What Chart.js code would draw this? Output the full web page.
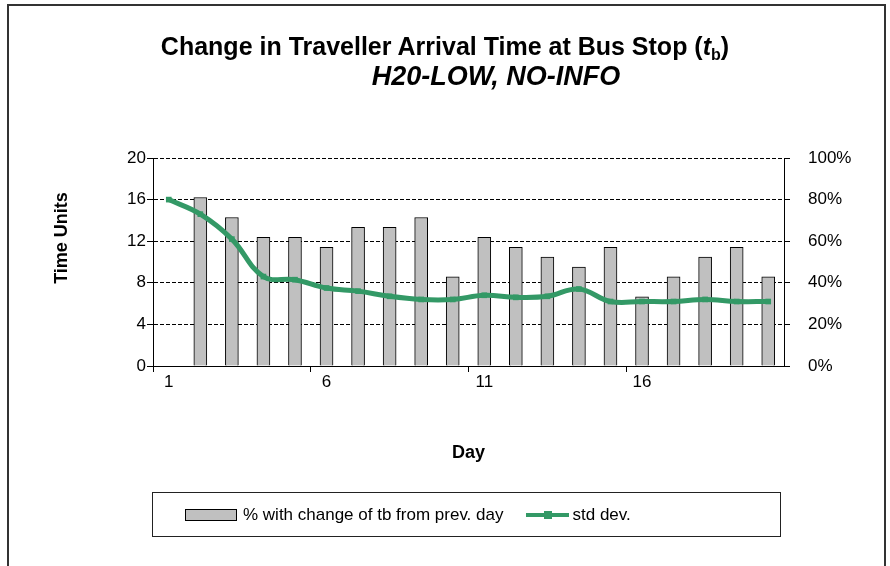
<!DOCTYPE html>
<html>
<head>
<meta charset="utf-8">
<script src="https://cdn.jsdelivr.net/npm/chart.js@4.4.1/dist/chart.umd.min.js"></script>
<style>
  html, body { margin: 0; padding: 0; background: #fff; overflow: hidden; }
  #wrap { position: relative; width: 890px; height: 566px; overflow: hidden; font-family: 'Liberation Sans', Arial, sans-serif; color: #000; }
  #chart { position: absolute; left: 0; top: 0; }
  .frame { position: absolute; left: 7px; top: 4px; width: 875px; height: 600px; border: 2px solid #333; }
  .title { position: absolute; left: 0; top: 31px; width: 890px; text-align: center; font-weight: bold; font-size: 25px; line-height: 30px; white-space: nowrap; }
  .title sub { font-size: 16px; vertical-align: -5px; line-height: 0; }
  .subtitle { position: absolute; left: 51px; top: 61px; width: 890px; text-align: center; font-weight: bold; font-style: italic; font-size: 27px; line-height: 30px; white-space: nowrap; }
  .ytitle { position: absolute; left: 61px; top: 238px; transform: translate(-50%, -50%) rotate(-90deg); font-weight: bold; font-size: 18px; white-space: nowrap; }
  .legend { position: absolute; left: 152px; top: 492px; width: 627px; height: 43px; border: 1px solid #222; display: flex; align-items: center; justify-content: flex-start; font-size: 17px; }
  .legend .item { display: flex; align-items: center; }
  .legend .bar { width: 50px; height: 10px; background: #c0c0c0; border: 1px solid #000; margin: 0 6px 0 32px; }
  .legend .line { position: relative; width: 43px; height: 4px; background: #339966; margin: 0 3px 0 23px; }
  .legend .line::after { content: ''; position: absolute; left: 18px; top: -2px; width: 8px; height: 8px; background: #339966; }
</style>
</head>
<body>
<div id="wrap">
  <canvas id="chart" width="890" height="566"></canvas>
  <div class="frame"></div>
  <div class="title">Change in Traveller Arrival Time at Bus Stop (<i>t</i><sub>b</sub>)</div>
  <div class="subtitle">H20-LOW, NO-INFO</div>
  <div class="ytitle">Time Units</div>
  <div class="legend">
    <div class="item"><span class="bar"></span>% with change of tb from prev. day</div>
    <div class="item"><span class="line"></span>std dev.</div>
  </div>
</div>
<script>
// days of the run
const days = ['1', '2', '3', '4', '5', '6', '7', '8', '9', '10',
              '11', '12', '13', '14', '15', '16', '17', '18', '19', '20'];
// only these days get a label on the x axis
const labelledDays = ['1', '6', '11', '16'];

// % of travellers who changed tb from the previous day (none on day 1)
const pctChanged = [null, 81.0, 71.4, 61.9, 61.9, 57.1, 66.7, 66.7, 71.4, 42.9,
                    61.9, 57.1, 52.4, 47.6, 57.1, 33.3, 42.9, 52.4, 57.1, 42.9];
// standard deviation of tb, time units
const stdDev = [16.0, 14.6, 12.2, 8.6, 8.3, 7.5, 7.2, 6.7, 6.4, 6.4,
                6.8, 6.6, 6.7, 7.4, 6.2, 6.2, 6.2, 6.4, 6.2, 6.2];

const timeMax = 20, timeStep = 4;
const pctMax = 100, pctStep = 20;

const tickFont = { family: "'Liberation Sans', Arial, sans-serif", size: 17 };

new Chart(document.getElementById('chart'), {
  type: 'bar',
  data: {
    labels: days,
    datasets: [
      {
        type: 'line',
        label: 'std dev.',
        data: stdDev,
        yAxisID: 'y',
        order: 0,
        borderColor: '#339966',
        backgroundColor: '#339966',
        borderWidth: 5,
        tension: 0.4,
        pointStyle: 'rect',
        pointRadius: 4,
        pointBackgroundColor: '#339966',
        pointBorderWidth: 0
      },
      {
        type: 'bar',
        label: '% with change of tb from prev. day',
        data: pctChanged,
        yAxisID: 'y1',
        order: 1,
        backgroundColor: '#c0c0c0',
        borderColor: '#000',
        borderWidth: 1,
        barThickness: 13
      }
    ]
  },
  options: {
    responsive: false,
    animation: false,
    layout: { padding: { top: 158, left: 0, right: 0, bottom: 100 } },
    plugins: {
      legend: { display: false },
      title: { display: false },
      tooltip: { enabled: false }
    },
    scales: {
      x: {
        offset: true,
        grid: {
          offset: true,
          drawOnChartArea: false,
          drawTicks: true,
          tickLength: 6,
          color: c => (c.index % 5 === 0 ? '#000' : 'rgba(0,0,0,0)')
        },
        border: { display: true, color: '#000', width: 1 },
        ticks: {
          autoSkip: false,
          maxRotation: 0,
          padding: 0,
          color: '#000',
          font: tickFont,
          callback: function (v) {
            const d = this.getLabelForValue(v);
            return labelledDays.includes(d) ? d : '';
          }
        },
        title: {
          display: true,
          text: 'Day',
          color: '#000',
          font: { family: tickFont.family, size: 18, weight: 'bold' },
          padding: { top: 0, bottom: 2 }
        },
        afterFit: s => { s.height = 100; }
      },
      y: {
        position: 'left',
        min: 0,
        max: timeMax,
        ticks: { stepSize: timeStep, padding: 1, color: '#000', font: tickFont },
        grid: { color: '#000', lineWidth: 1, tickLength: 6, tickColor: '#000', tickBorderDash: [] },
        border: { display: true, color: '#000', width: 1, dash: [4, 2] },
        afterFit: s => { s.width = 153; }
      },
      y1: {
        position: 'right',
        min: 0,
        max: pctMax,
        ticks: { stepSize: pctStep, padding: 18, color: '#000', font: tickFont, callback: v => v + '%' },
        grid: { drawOnChartArea: false, color: '#000', tickLength: 6, tickColor: '#000' },
        border: { display: true, color: '#000', width: 1 },
        afterFit: s => { s.width = 890 - 784; }
      }
    }
  }
});
</script>
</body>
</html>
